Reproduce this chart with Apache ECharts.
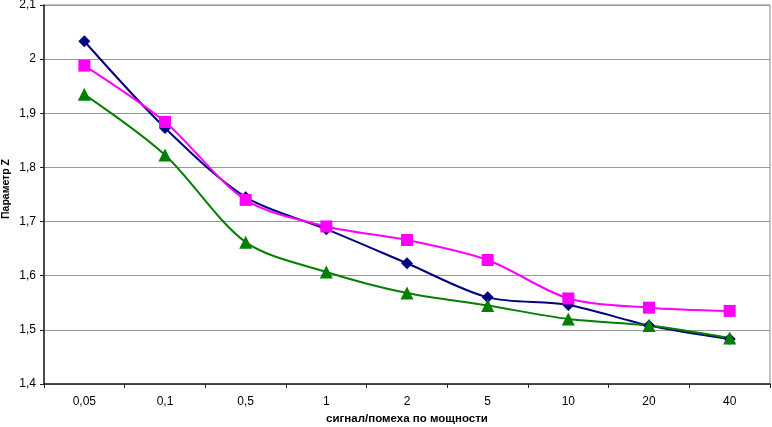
<!DOCTYPE html>
<html><head><meta charset="utf-8">
<script src="https://cdn.jsdelivr.net/npm/echarts@6/dist/echarts.min.js"></script>
<style>html,body{margin:0;padding:0;background:#fff}#c{width:772px;height:427px}</style>
</head><body><div id="c"></div>
<script>
const categories = ['0,05','0,1','0,5','1','2','5','10','20','40'];
const seriesBlue  = [2.033, 1.873, 1.745, 1.686, 1.623, 1.560, 1.546, 1.508, 1.483];
const seriesPink  = [1.988, 1.884, 1.740, 1.691, 1.666, 1.629, 1.558, 1.541, 1.535];
const seriesGreen = [1.935, 1.823, 1.662, 1.607, 1.568, 1.545, 1.520, 1.508, 1.485];
const yMin = 1.4, yMax = 2.1, yStep = 0.1;
const yTitle = 'Параметр Z';
const xTitle = 'сигнал/помеха по мощности';

const chart = echarts.init(document.getElementById('c'));
const font = 'Liberation Sans, Arial, sans-serif';
function mk(name, data, color, symbol, size) {
  return {
    name, type: 'line', data, smooth: 0.3, symbol, symbolSize: size,
    lineStyle: { color, width: 2 }, itemStyle: { color },
    emphasis: { disabled: true }, animation: false
  };
}
chart.setOption({
  animation: false,
  grid: { left: 44, right: 2, top: 5, bottom: 43, show: true, borderColor: '#888', borderWidth: 1,
          containLabel: false, outerBoundsMode: 'none' },
  graphic: [{
    type: 'text', x: 6, y: 189, rotation: Math.PI / 2, silent: true,
    style: { text: yTitle, fontFamily: font, fontSize: 10.5, fontWeight: 'bold', fill: '#000',
             align: 'center', verticalAlign: 'middle' }
  }],
  xAxis: {
    type: 'category', data: categories, boundaryGap: true,
    name: xTitle, nameLocation: 'middle', nameGap: 28,
    nameTextStyle: { fontFamily: font, fontSize: 11.5, fontWeight: 'bold', color: '#000' },
    axisLine: { lineStyle: { color: '#222', width: 1.5 } },
    axisTick: { show: true, length: 4, lineStyle: { color: '#222' } },
    axisLabel: { fontFamily: font, fontSize: 12, color: '#000', margin: 12 },
    splitLine: { show: false }
  },
  yAxis: {
    type: 'value', min: yMin, max: yMax, interval: yStep,
    axisLine: { show: true, lineStyle: { color: '#222', width: 1.5 } },
    axisTick: { show: true, length: 4, lineStyle: { color: '#222' } },
    axisLabel: { fontFamily: font, fontSize: 12, color: '#000', margin: 8,
      formatter: v => String(Math.round(v * 10) / 10).replace('.', ',') },
    splitLine: { show: true, lineStyle: { color: '#999', width: 1 } }
  },
  series: [
    mk('A', seriesBlue, '#000080', 'diamond', 12),
    mk('B', seriesPink, '#ff00ff', 'rect', 12),
    mk('C', seriesGreen, '#008000', 'triangle', 13)
  ]
});
</script></body></html>
